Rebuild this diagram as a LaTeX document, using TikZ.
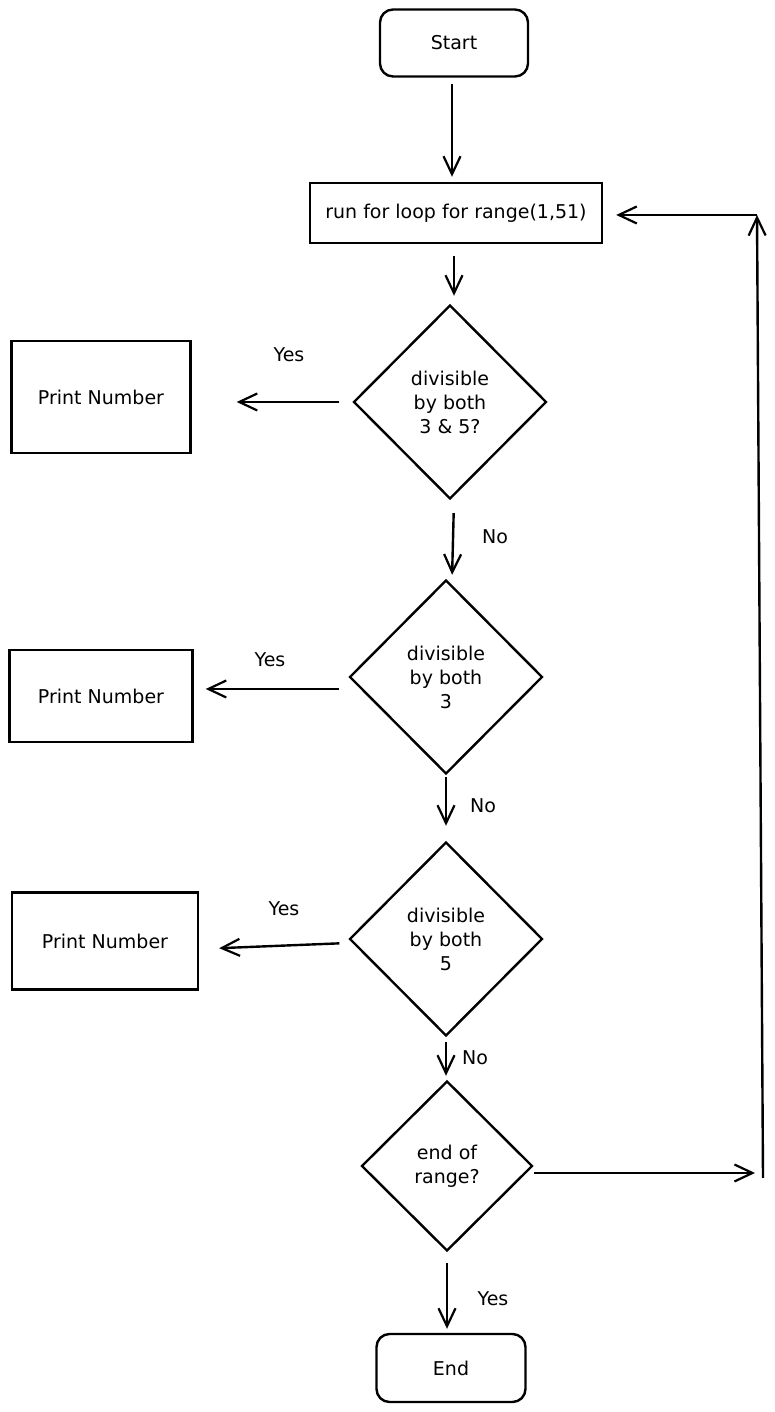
\documentclass[tikz,border=0pt]{standalone}
\usepackage{fontspec}
\setmainfont{DejaVu Sans}
\usetikzlibrary{positioning, arrows.meta, shapes}

\begin{document}
\begin{tikzpicture}[x=1pt, y=1pt, line width=2.4pt,
        >={Straight Barb[length=18pt, width=17pt, line width=2.2pt]},
        txt/.style={font=\fontsize{19}{24}\selectfont},
        term/.style={txt, draw, rounded corners=13pt, minimum width=148pt, minimum height=67pt},
        outbox/.style={txt, draw, minimum width=180pt, minimum height=100pt},
        decision/.style={txt, draw, diamond, aspect=1, inner sep=0pt, align=center,
            minimum width=193pt, minimum height=194pt},
        lbl/.style={txt}]
        \useasboundingbox (0,0) rectangle (774,1412);

        \node[term] (start) at (454,1369) {Start};
        \node[txt, draw, minimum width=292pt, minimum height=60pt] (loop) at (456,1199) {run for loop for range(1,51)};

        \node[decision] (d1) at (450,1010) {divisible\\by both\\3 \& 5?};
        \node[decision] (d2) at (446,735) {divisible\\by both\\3};
        \node[decision] (d3) at (446,473) {divisible\\by both\\5};
        \node[decision, minimum width=171pt, minimum height=170pt] (d4) at (447,246) {end of\\range?};

        \node[outbox, minimum width=179pt, minimum height=112pt] (p1) at (101,1015) {Print Number};
        \node[outbox, minimum width=183pt, minimum height=92pt] (p2) at (101,716) {Print Number};
        \node[outbox, minimum width=186pt, minimum height=97pt] (p3) at (105,471) {Print Number};

        \node[term, minimum width=149pt, minimum height=68pt] (end) at (451,44) {End};

        % main line
        \draw[->, shorten <=6pt, shorten >=5pt] ([xshift=-2pt]start.south) -- ([xshift=-2pt]start.south |- loop.north);
        \draw[->, shorten <=12pt, shorten >=8pt] ([xshift=-2pt]loop.south) -- ([xshift=-2pt]loop.south |- d1.north);
        \draw[->, shorten <=13pt, shorten >=4pt] ([xshift=4pt]d1.south) -- ([xshift=6pt]d2.north);
        \draw[->, shorten <=2pt, shorten >=15pt] (d2.south) -- (d2.south |- d3.north);
        \draw[->, shorten <=5pt, shorten >=4pt] (d3.south) -- (d3.south |- d4.north);
        \draw[->, shorten <=11pt, shorten >=4pt] (d4.south) -- (d4.south |- end.north);

        % yes branches
        \draw[->, shorten <=13pt, shorten >=45pt] (d1.west) -- (d1.west -| p1.east);
        \draw[->, shorten <=9pt, shorten >=12pt] ([yshift=-12pt]d2.west) -- ([yshift=-12pt]d2.west -| p2.east);
        \draw[->, shorten <=9pt, shorten >=20pt] ([yshift=-4pt]d3.west) -- ([yshift=-8pt]p3.east);

        % back to the loop
        \coordinate (rb) at (763,234);
        \coordinate (rt) at (757,1197);
        \draw[->, shorten >=8pt] ([yshift=-7pt]d4.east) -- ([yshift=-7pt]d4.east -| rb);
        \draw[->] (rb) -- (rt);
        \draw[->, shorten >=13pt] (rt) -- (rt -| loop.east);

        \node[lbl] (y1) at (289,1057) {Yes};
        \node[lbl] (y2) at (270,752) {Yes};
        \node[lbl] (y3) at (284,503) {Yes};
        \node[lbl] (n1) at (495,875) {No};
        \node[lbl] (n2) at (483,606) {No};
        \node[lbl] (n3) at (475,354) {No};
        \node[lbl] (y4) at (493,113) {Yes};

    \end{tikzpicture}
\end{document}
